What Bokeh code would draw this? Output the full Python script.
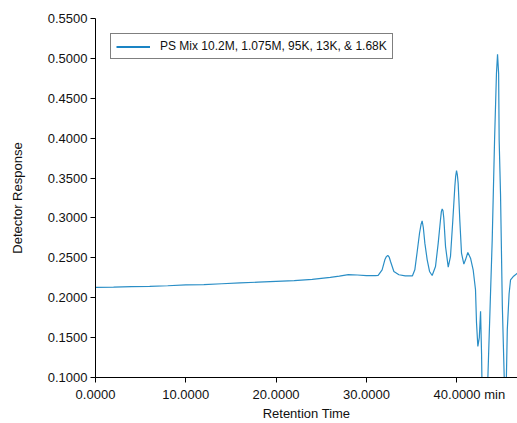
from bokeh.plotting import figure
from bokeh.models import (ColumnDataSource, FixedTicker, PrintfTickFormatter,
                          Range1d, Legend, LegendItem)
from bokeh.embed import file_html
from bokeh.resources import INLINE

# Retention time (min) and detector response
rt = [0.0, 2.0, 4.0, 6.0, 8.0, 10.0, 12.0, 14.0, 16.0, 18.0, 20.0, 22.0, 24.0,
      26.0, 27.0, 28.0, 29.0, 30.0, 31.0, 31.3, 31.74, 32.04, 32.2, 32.37,
      32.52, 32.67, 33.04, 33.6, 34.3, 35.1, 35.36, 35.6, 35.88, 36.05,
      36.17, 36.3, 36.47, 36.73, 36.99, 37.28, 37.65, 37.95, 38.2, 38.3,
      38.39, 38.48, 38.57, 38.76, 39.06, 39.31, 39.57, 39.79, 39.88, 39.98,
      40.07, 40.16, 40.34, 40.53, 40.79, 40.97, 41.23, 41.53, 41.82, 42.08,
      42.19, 42.34, 42.5, 42.64, 42.75, 42.85, 43.15, 43.45, 43.7, 43.93,
      44.19, 44.4, 44.52, 44.64, 44.7, 44.85, 45.05, 45.33, 45.45, 45.6,
      45.8, 45.96, 46.3, 46.73]
resp = [0.2130, 0.2133, 0.2138, 0.2143, 0.2150, 0.2160, 0.2165, 0.2175,
        0.2185, 0.2195, 0.2205, 0.2215, 0.2230, 0.2255, 0.2270, 0.2290,
        0.2285, 0.2278, 0.2278, 0.2280, 0.2350, 0.2475, 0.2515, 0.2529,
        0.2510, 0.2454, 0.2329, 0.2288, 0.2275, 0.2275, 0.2350, 0.2558,
        0.2808, 0.2920, 0.2963, 0.2880, 0.2684, 0.2475, 0.2329, 0.2279,
        0.2392, 0.2684, 0.2975, 0.3080, 0.3113, 0.3090, 0.2996, 0.2642,
        0.2383, 0.2517, 0.2975, 0.3392, 0.3520, 0.3592, 0.3540, 0.3433,
        0.2975, 0.2558, 0.2421, 0.2475, 0.2567, 0.2496, 0.2350, 0.2100,
        0.1690, 0.1390, 0.1500, 0.1830, 0.1300, 0.0500, 0.0400, 0.1000,
        0.1900, 0.2725, 0.3975, 0.4810, 0.5050, 0.4810, 0.3975, 0.3300,
        0.1900, 0.0700, 0.0700, 0.1600, 0.2050, 0.2225, 0.2270, 0.2310]

x_ticks = [0, 10, 20, 30, 40]
y_ticks = [0.10, 0.15, 0.20, 0.25, 0.30, 0.35, 0.40, 0.45, 0.50, 0.55]
x_unit = "min"
series_name = "PS Mix 10.2M, 1.075M, 95K, 13K, & 1.68K"

FONT = "Liberation Sans"
LINE = "#2a8ec6"

p = figure(width=517, height=423, output_backend="svg", toolbar_location=None,
           x_range=Range1d(0, 46.73), y_range=Range1d(0.10, 0.55))
p.min_border_left = 95
p.min_border_right = 0
p.min_border_top = 18
p.min_border_bottom = 45
p.outline_line_color = None
p.background_fill_color = "white"
p.border_fill_color = "white"
p.xgrid.visible = False
p.ygrid.visible = False

src = ColumnDataSource(dict(x=rt, y=resp))
p.line("x", "y", source=src, line_color=LINE, line_width=1.2)
# legend swatch (thicker than the trace, as in the original); a single
# point so that it draws nothing in the plot itself
swatch = p.line(x=rt[:1], y=resp[:1], line_color="#1a84c4", line_width=2)

for ax in (p.xaxis[0], p.yaxis[0]):
    ax.axis_line_color = "black"
    ax.axis_line_width = 1
    ax.major_tick_line_color = "black"
    ax.major_tick_out = 5
    ax.major_tick_in = 0
    ax.minor_tick_line_color = None
    ax.major_label_text_font = FONT
    ax.major_label_text_font_size = "13px"
    ax.major_label_text_color = "#111111"
    ax.axis_label_text_font = FONT
    ax.axis_label_text_font_size = "13px"
    ax.axis_label_text_font_style = "normal"
    ax.axis_label_text_color = "#111111"

p.xaxis[0].ticker = FixedTicker(ticks=x_ticks)
p.yaxis[0].ticker = FixedTicker(ticks=y_ticks)
p.xaxis[0].formatter = PrintfTickFormatter(format="%.4f")
p.yaxis[0].formatter = PrintfTickFormatter(format="%.4f")
# last x tick carries the unit to its right; non-breaking spaces on the
# left keep the number itself centred on the tick
last = x_ticks[-1]
p.xaxis[0].major_label_overrides = {
    last: "\u00a0" * 7 + "%.4f" % last + " " + x_unit}
p.xaxis[0].axis_label = "Retention Time"
p.yaxis[0].axis_label = "Detector Response"
p.xaxis[0].major_label_standoff = 4
p.xaxis[0].axis_label_standoff = 1
p.yaxis[0].major_label_standoff = 3
p.yaxis[0].axis_label_standoff = 20

legend = Legend(items=[LegendItem(label=series_name, renderers=[swatch])],
                location="top_left")
legend.margin = 15
legend.padding = 5
legend.spacing = 0
legend.glyph_width = 34
legend.glyph_height = 13
legend.label_height = 13
legend.label_text_font = FONT
legend.label_text_font_size = "12px"
legend.label_text_color = "#111111"
legend.border_line_color = "black"
legend.border_line_width = 1
legend.background_fill_alpha = 1
legend.label_standoff = 10
p.add_layout(legend)

open("out.html", "w").write(file_html(p, INLINE))
